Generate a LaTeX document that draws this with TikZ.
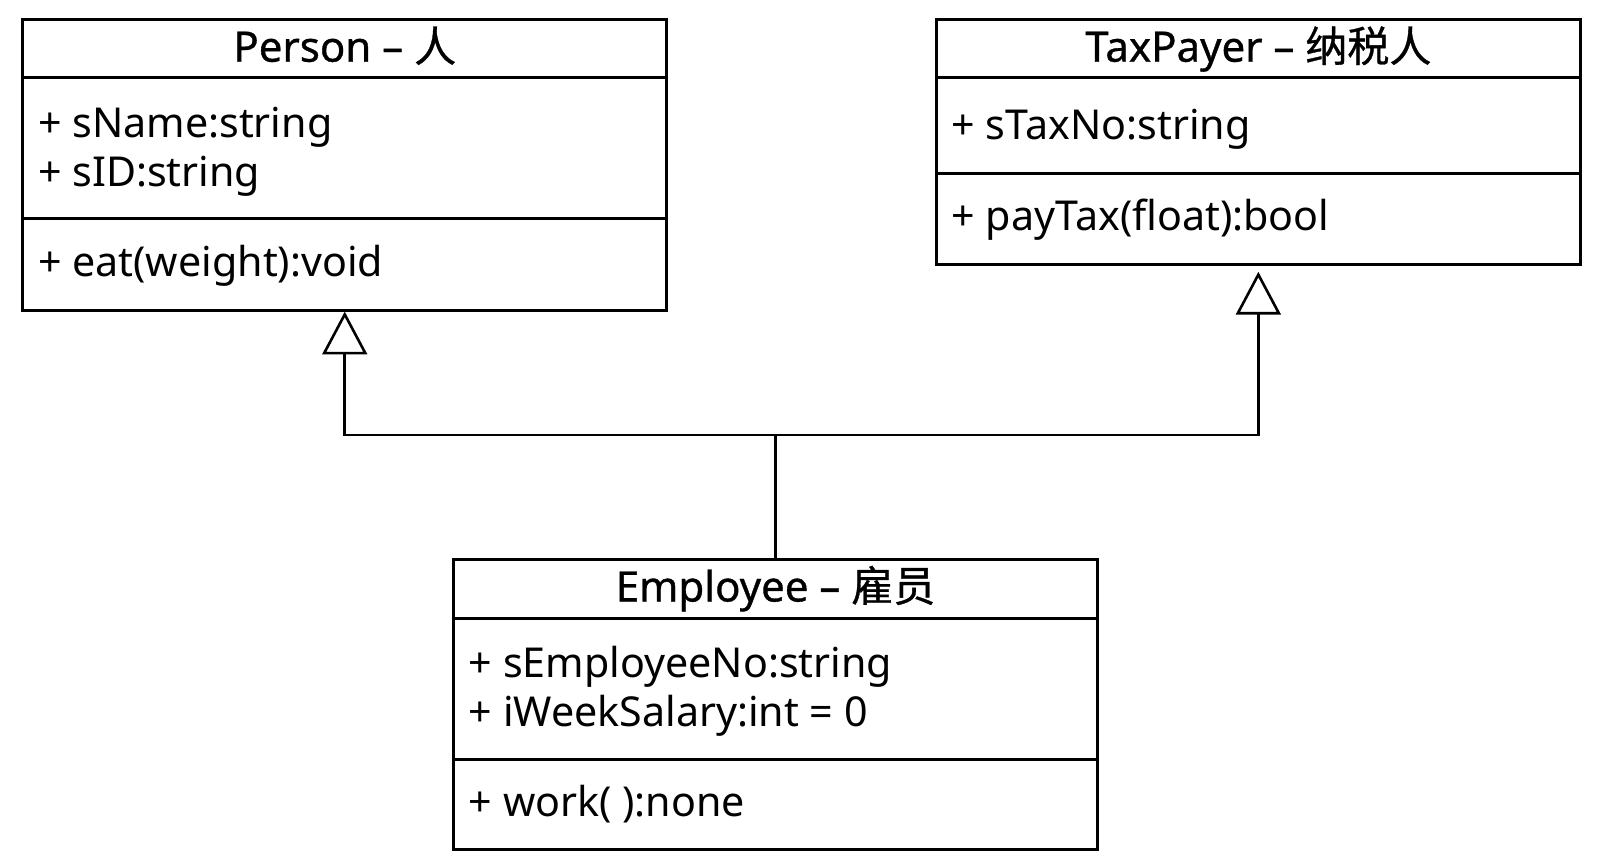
\documentclass[tikz,border=0pt]{standalone}
\usepackage{fontspec}
\setmainfont{Noto Sans}
\newfontfamily\cjk{Noto Sans CJK SC}
\newfontfamily\titlefont{Noto Sans}[FakeBold=0.8]
\newfontfamily\cjktitle{Noto Sans CJK SC}[FakeBold=0.8]
\usetikzlibrary{arrows.meta,positioning}

\tikzset{
  umlbox/.style={draw, line width=1.5pt, minimum width=321.85pt, inner sep=0pt, anchor=north west},
  umlsep/.style={line width=1.5pt},
  umltitle/.style={font=\titlefont\fontsize{21}{24}\selectfont, inner sep=0pt, text height=0.75em, text depth=0.25em},
  umlentry/.style={font=\fontsize{20.6}{24}\selectfont, inner sep=0pt, anchor=west, text height=0.75em, text depth=0.25em},
  inherit/.style={line width=1.3pt, -{Triangle[open, length=21.4pt, width=22.4pt, line width=1.3pt]}},
}

\begin{document}
\begin{tikzpicture}[x=0.5pt, y=-0.5pt]
  \useasboundingbox (0,0) rectangle (1597,861);
  % classes
  \node[umlbox, minimum height=145.15pt] (person) at (21.4,18.3) {};
  \node[umlbox, minimum height=122.25pt] (taxpayer) at (935,18.3) {};
  \node[umlbox, minimum height=145.15pt] (employee) at (452.2,558.1) {};

  % compartments
  \draw[umlsep] ([yshift=-29.55pt]person.north west) -- ([yshift=-29.55pt]person.north east);
  \draw[umlsep] ([yshift=-100.35pt]person.north west) -- ([yshift=-100.35pt]person.north east);
  \draw[umlsep] ([yshift=-29.55pt]taxpayer.north west) -- ([yshift=-29.55pt]taxpayer.north east);
  \draw[umlsep] ([yshift=-77.4pt]taxpayer.north west) -- ([yshift=-77.4pt]taxpayer.north east);
  \draw[umlsep] ([yshift=-30.05pt]employee.north west) -- ([yshift=-30.05pt]employee.north east);
  \draw[umlsep] ([yshift=-100.85pt]employee.north west) -- ([yshift=-100.85pt]employee.north east);

  % texts
  \node[umltitle] (person title) at ([yshift=-19.2pt]person.north) {Person – {\cjktitle 人}};
  \node[umlentry] (person name) at ([xshift=8.15pt, yshift=-57pt]person.north west) {+ sName:string};
  \node[umlentry] (person id) at ([xshift=8.15pt, yshift=-81.4pt]person.north west) {+ sID:string};
  \node[umlentry] (person eat) at ([xshift=8.15pt, yshift=-126.7pt]person.north west) {+ eat(weight):void};

  \node[umltitle] (taxpayer title) at ([yshift=-19.2pt]taxpayer.north) {TaxPayer – {\cjktitle 纳税人}};
  \node[umlentry] (taxpayer no) at ([xshift=8.15pt, yshift=-58pt]taxpayer.north west) {+ sTaxNo:string};
  \node[umlentry] (taxpayer pay) at ([xshift=8.15pt, yshift=-103.8pt]taxpayer.north west) {+ payTax(float):bool};

  \node[umltitle] (employee title) at ([yshift=-19.2pt]employee.north) {Employee – {\cjktitle 雇员}};
  \node[umlentry] (employee no) at ([xshift=8.15pt, yshift=-57.4pt]employee.north west) {+ sEmployeeNo:string};
  \node[umlentry] (employee salary) at ([xshift=8.15pt, yshift=-81.9pt]employee.north west) {+ iWeekSalary:int = 0};
  \node[umlentry] (employee work) at ([xshift=8.15pt, yshift=-126.7pt]employee.north west) {+ work( ):none};

  % generalisation
  \coordinate (junction) at (employee.north |- 0,434.9);
  \draw[inherit] (employee.north) -- (junction) -| (person.south);
  \draw[inherit, shorten >=3pt] (junction) -| (taxpayer.south);
\end{tikzpicture}
\end{document}
